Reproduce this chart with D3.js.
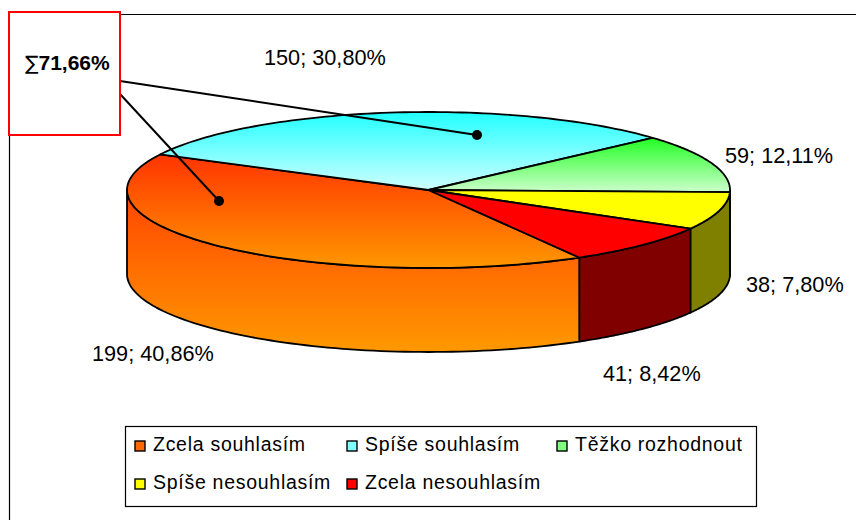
<!DOCTYPE html>
<html><head><meta charset="utf-8">
<script src="https://cdn.jsdelivr.net/npm/d3@7/dist/d3.min.js"></script>
<style>html,body{margin:0;padding:0;background:#fff}svg{display:block}text{font-family:"Liberation Sans",Arial,sans-serif;fill:#000}</style>
</head><body><div id="c"></div>
<script>
const categories=["Zcela souhlasím","Spíše souhlasím","Těžko rozhodnout","Spíše nesouhlasím","Zcela nesouhlasím"];
const counts=[199,150,59,38,41];
const percents=["40,86%","30,80%","12,11%","7,80%","8,42%"];
const sumSymbol="∑";
const sumValue="71,66%";
const topStops=[["#ff3400","#ff9700"],["#22ffff","#d0ffff"],["#22ff22","#ccffcc"],["#ffff00","#ffff00"],["#ff0000","#ff0000"]];
const sideStops=[["#ff4400","#ff9900"],null,null,["#808000","#808000"],["#800000","#800000"]];
const legendSwatch=["#ff6a00","#7fffff","#80ff80","#ffff00","#ff0000"];

const W=856,H=520,cx=428.5,cy=190,rx=301.5,ry=78,depth=84;
const svg=d3.select("#c").append("svg").attr("width",W).attr("height",H);
const defs=svg.append("defs");
const start=Math.PI/2+60*Math.PI/180;
const arcs=d3.pie().sort(null).value(d=>d).startAngle(start).endAngle(start+2*Math.PI)(counts);
const X=d3.scaleLinear().domain([-1,1]).range([cx-rx,cx+rx]);
const Y=d3.scaleLinear().domain([-1,1]).range([cy-ry,cy+ry]);
const pt=(a,dz=0)=>[X(Math.sin(a)),Y(-Math.cos(a))+dz];
const line=d3.line();
const sample=(a0,a1,dz=0)=>d3.range(0,1.0001,1/80).map(t=>pt(a0+(a1-a0)*t,dz));
function grad(id,c,y0,y1){
  const g=defs.append("linearGradient").attr("id",id).attr("gradientUnits","userSpaceOnUse")
    .attr("x1",0).attr("x2",0).attr("y1",y0).attr("y2",y1);
  g.append("stop").attr("offset",0).attr("stop-color",c[0]);
  g.append("stop").attr("offset",1).attr("stop-color",c[1]);
  return `url(#${id})`;
}
svg.append("path").attr("d","M9.5,520V14.5H856").attr("fill","none").attr("stroke","#000").attr("stroke-width",1.2);

const chartG=svg.append("g");
const east=Math.PI/2, west=3*Math.PI/2;
[3,4,0].forEach(i=>{
  const norm=a=>{let b=a;while(b>=2*Math.PI+east)b-=2*Math.PI;while(b<east)b+=2*Math.PI;return b;};
  let a0=norm(arcs[i].startAngle), a1=a0+(arcs[i].endAngle-arcs[i].startAngle);
  a0=Math.max(a0,east);a1=Math.min(a1,west);
  if(a1<=a0)return;
  const topE=sample(a0,a1),botE=sample(a0,a1,depth).reverse();
  const ys=[...topE,...botE].map(p=>p[1]);
  const fill=grad("s"+i,sideStops[i],d3.min(ys),d3.max(ys));
  chartG.append("path").attr("d",line([...topE,...botE])+"Z").attr("fill",fill)
    .attr("stroke","#000").attr("stroke-width",1.8).attr("stroke-linejoin","round");
});
chartG.append("path").attr("d",line([pt(east),pt(arcs[3].startAngle),pt(arcs[3].startAngle,depth),pt(east,depth)])+"Z")
  .attr("fill",sideStops[3][0]).attr("stroke","#000").attr("stroke-width",1.8).attr("stroke-linejoin","round");
arcs.forEach((d,i)=>{
  const rim=sample(d.startAngle,d.endAngle);
  const pts=[[cx,cy],...rim];
  const ys=pts.map(p=>p[1]);
  const fill=grad("t"+i,topStops[i],d3.min(ys),d3.max(ys));
  chartG.append("path").attr("d",line(pts)+"Z").attr("fill",fill)
    .attr("stroke","#000").attr("stroke-width",1.8).attr("stroke-linejoin","round");
});

const labelPos=[[92,361],[264,65],[725,163],[746,292],[603,381]];
svg.append("g").selectAll("text").data(counts).join("text")
  .attr("x",(d,i)=>labelPos[i][0]).attr("y",(d,i)=>labelPos[i][1])
  .attr("font-size",21.7).text((d,i)=>`${d}; ${percents[i]}`);

const dots=[[477,135],[219,201]],from=[[120,81],[120,94]];
dots.forEach((p,i)=>{
  svg.append("line").attr("x1",from[i][0]).attr("y1",from[i][1]).attr("x2",p[0]).attr("y2",p[1]).attr("stroke","#000").attr("stroke-width",2);
  svg.append("circle").attr("cx",p[0]).attr("cy",p[1]).attr("r",5).attr("fill","#000");
});
svg.append("rect").attr("x",9).attr("y",12).attr("width",111).attr("height",123).attr("fill","#fff").attr("stroke","#f00").attr("stroke-width",2);
const st=svg.append("text").attr("x",25).attr("y",70).attr("font-size",21);
st.append("tspan").attr("font-family","DejaVu Sans").attr("font-size",20).text(sumSymbol);
st.append("tspan").attr("font-weight","bold").text(sumValue);

const lg=svg.append("g");
lg.append("rect").attr("x",125.5).attr("y",426.5).attr("width",631).attr("height",80).attr("fill","#fff").attr("stroke","#000").attr("stroke-width",1.2);
const lx=[135,347,557,135,347],ly=[445,445,445,483,483];
categories.forEach((c,i)=>{
  lg.append("rect").attr("x",lx[i]).attr("y",ly[i]-4).attr("width",10).attr("height",10).attr("fill",legendSwatch[i]).attr("stroke","#000").attr("stroke-width",1.4);
  lg.append("text").attr("x",lx[i]+18).attr("y",ly[i]+6).attr("font-size",19.5).attr("letter-spacing",0.72).text(c);
});
</script></body></html>
